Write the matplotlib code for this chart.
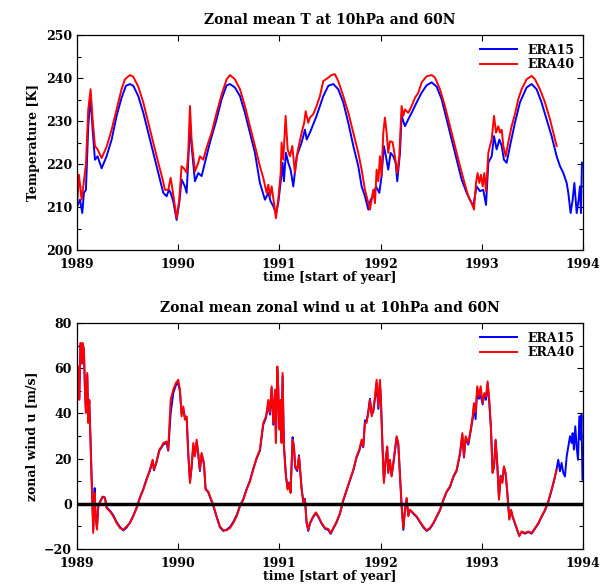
import numpy as np
import matplotlib.pyplot as plt
from matplotlib.ticker import MultipleLocator

plt.rcParams['font.family'] = 'DejaVu Serif'
plt.rcParams['font.weight'] = 'bold'
plt.rcParams['axes.labelweight'] = 'bold'
plt.rcParams['axes.titleweight'] = 'bold'

# Temperature at 10hPa, 60N (years since 1989, K)
t_T40 = [0.003, 0.020, 0.046, 0.063, 0.089, 0.112, 0.135, 0.155, 0.178, 0.204,
         0.244, 0.293, 0.343, 0.392, 0.441, 0.474, 0.524, 0.557, 0.606, 0.656,
         0.705, 0.754, 0.804, 0.847, 0.870, 0.902, 0.926, 0.952, 0.985, 1.011,
         1.034, 1.057, 1.084, 1.100, 1.117, 1.133, 1.166, 1.199, 1.215, 1.248,
         1.281, 1.331, 1.380, 1.430, 1.479, 1.512, 1.561, 1.611, 1.660, 1.709,
         1.759, 1.808, 1.841, 1.874, 1.891, 1.907, 1.924, 1.947, 1.966, 1.989,
         2.013, 2.022, 2.039, 2.062, 2.082, 2.105, 2.128, 2.154, 2.181, 2.220,
         2.246, 2.260, 2.286, 2.302, 2.335, 2.368, 2.401, 2.434, 2.484, 2.516,
         2.549, 2.582, 2.632, 2.681, 2.731, 2.780, 2.813, 2.846, 2.879, 2.895,
         2.912, 2.928, 2.945, 2.961, 2.978, 2.994, 3.010, 3.027, 3.043, 3.060,
         3.076, 3.093, 3.119, 3.142, 3.165, 3.185, 3.208, 3.225, 3.241, 3.274,
         3.307, 3.340, 3.373, 3.406, 3.455, 3.505, 3.538, 3.587, 3.636, 3.686,
         3.735, 3.785, 3.834, 3.867, 3.900, 3.923, 3.943, 3.959, 3.976, 3.992,
         4.009, 4.025, 4.042, 4.065, 4.081, 4.098, 4.121, 4.141, 4.164, 4.180,
         4.197, 4.213, 4.236, 4.262, 4.295, 4.328, 4.361, 4.394, 4.443, 4.493,
         4.526, 4.575, 4.625, 4.674, 4.707, 4.740]
T_era40 = [211.0, 217.5, 211.7, 214.8, 220.0, 232.7, 237.4, 230.4, 224.2, 223.4,
           221.4, 224.0, 228.0, 232.7, 237.4, 239.7, 240.7, 240.3, 238.0, 234.3,
           229.6, 225.0, 220.3, 216.4, 214.0, 214.0, 216.8, 212.9, 207.4, 211.7,
           219.5, 219.0, 218.0, 222.6, 233.5, 225.7, 218.3, 220.3, 221.8, 221.0,
           223.8, 227.3, 231.9, 236.2, 239.7, 240.7, 239.7, 237.4, 233.5, 228.8,
           224.2, 219.5, 216.8, 213.3, 215.2, 212.5, 214.8, 210.9, 207.4, 211.7,
           217.9, 225.0, 221.0, 231.2, 223.4, 221.8, 224.2, 217.9, 223.0, 227.3,
           229.6, 232.3, 229.6, 230.8, 231.6, 233.5, 235.8, 239.3, 240.1, 240.7,
           240.9, 239.3, 235.8, 232.0, 227.3, 222.6, 218.7, 214.0, 210.9, 209.4,
           211.7, 214.0, 210.9, 218.7, 216.0, 221.8, 217.2, 227.3, 230.8, 227.3,
           222.6, 225.3, 225.1, 221.8, 217.9, 221.8, 233.5, 231.2, 232.7, 231.9,
           233.5, 235.4, 236.6, 239.0, 240.4, 240.7, 240.1, 237.4, 233.5, 228.8,
           224.2, 219.5, 215.2, 212.5, 210.9, 209.4, 215.6, 217.9, 215.6, 217.5,
           214.8, 217.9, 213.7, 222.6, 224.2, 225.7, 231.2, 227.3, 228.8, 227.3,
           228.0, 224.2, 221.8, 225.0, 228.8, 231.6, 235.1, 237.4, 239.7, 240.5,
           239.7, 237.4, 234.3, 230.4, 227.3, 224.2]

t_T15 = [0.003, 0.030, 0.053, 0.069, 0.089, 0.112, 0.135, 0.155, 0.178, 0.204,
         0.244, 0.293, 0.343, 0.392, 0.441, 0.484, 0.524, 0.557, 0.606, 0.656,
         0.705, 0.754, 0.804, 0.853, 0.886, 0.909, 0.926, 0.952, 0.985, 1.011,
         1.034, 1.067, 1.084, 1.100, 1.117, 1.133, 1.166, 1.199, 1.232, 1.265,
         1.314, 1.380, 1.430, 1.479, 1.512, 1.561, 1.611, 1.660, 1.709, 1.759,
         1.808, 1.858, 1.891, 1.914, 1.940, 1.966, 1.989, 2.016, 2.032, 2.045,
         2.065, 2.088, 2.111, 2.138, 2.171, 2.220, 2.253, 2.270, 2.302, 2.368,
         2.434, 2.484, 2.533, 2.582, 2.632, 2.681, 2.731, 2.780, 2.813, 2.846,
         2.879, 2.902, 2.928, 2.955, 2.988, 3.010, 3.033, 3.053, 3.076, 3.099,
         3.126, 3.149, 3.165, 3.192, 3.208, 3.241, 3.274, 3.307, 3.356, 3.406,
         3.455, 3.505, 3.554, 3.603, 3.653, 3.702, 3.752, 3.801, 3.851, 3.883,
         3.916, 3.949, 3.982, 4.015, 4.042, 4.065, 4.098, 4.121, 4.147, 4.174,
         4.197, 4.219, 4.246, 4.279, 4.328, 4.377, 4.443, 4.493, 4.542, 4.591,
         4.641, 4.690, 4.740, 4.773, 4.806, 4.839, 4.855, 4.878, 4.898, 4.915,
         4.938, 4.957, 4.970, 4.980, 4.990]
T_era15 = [210.2, 211.7, 208.6, 213.3, 214.0, 228.8, 235.8, 228.0, 221.0, 221.8,
           219.0, 221.8, 225.7, 231.2, 235.4, 238.2, 238.6, 238.2, 235.8, 231.9,
           227.3, 222.6, 217.9, 213.3, 212.5, 214.0, 213.3, 211.3, 207.0, 210.9,
           216.4, 214.8, 213.3, 221.0, 228.8, 224.2, 216.0, 217.9, 217.2, 220.3,
           225.0, 230.4, 235.1, 238.3, 238.6, 237.8, 235.8, 231.9, 227.3, 222.6,
           215.6, 211.7, 213.3, 211.3, 210.2, 208.6, 210.9, 216.4, 220.3, 216.0,
           222.6, 220.3, 218.7, 214.8, 221.8, 225.0, 228.0, 225.7, 227.3, 231.2,
           235.8, 238.2, 238.6, 237.4, 234.3, 229.6, 224.2, 219.5, 214.8, 212.5,
           209.4, 211.7, 212.5, 214.8, 213.3, 217.2, 224.2, 221.8, 218.7, 222.6,
           221.8, 220.3, 216.0, 222.6, 231.2, 228.8, 230.4, 231.9, 234.3, 236.6,
           238.3, 239.0, 238.0, 235.1, 230.4, 225.7, 221.0, 216.4, 213.3, 211.7,
           210.2, 214.8, 213.7, 214.0, 210.5, 220.3, 221.8, 226.5, 223.4, 225.7,
           224.2, 221.0, 220.3, 224.2, 229.6, 234.3, 237.8, 238.6, 237.4, 234.3,
           230.4, 226.5, 221.8, 219.5, 217.9, 215.6, 213.3, 208.6, 211.7, 215.6,
           208.6, 211.7, 214.8, 208.6, 220.3]

# Zonal wind at 10hPa, 60N (years since 1989, m/s)
t_u = [0.003, 0.013, 0.023, 0.036, 0.049, 0.056, 0.069, 0.079, 0.089, 0.102,
       0.112, 0.122, 0.135, 0.148, 0.161, 0.175, 0.184, 0.198, 0.211, 0.227,
       0.254, 0.277, 0.293, 0.326, 0.359, 0.392, 0.425, 0.458, 0.491, 0.524,
       0.557, 0.590, 0.623, 0.656, 0.688, 0.721, 0.748, 0.761, 0.787, 0.814,
       0.837, 0.853, 0.886, 0.902, 0.926, 0.952, 0.978, 1.001, 1.018, 1.034,
       1.051, 1.067, 1.084, 1.100, 1.117, 1.133, 1.150, 1.166, 1.183, 1.199,
       1.215, 1.232, 1.255, 1.271, 1.298, 1.321, 1.347, 1.380, 1.413, 1.446,
       1.479, 1.512, 1.545, 1.578, 1.611, 1.644, 1.677, 1.709, 1.742, 1.775,
       1.808, 1.841, 1.868, 1.891, 1.907, 1.924, 1.940, 1.957, 1.966, 1.980,
       1.989, 1.999, 2.013, 2.022, 2.032, 2.045, 2.065, 2.082, 2.098, 2.111,
       2.131, 2.144, 2.157, 2.177, 2.194, 2.220, 2.237, 2.253, 2.269, 2.286,
       2.302, 2.335, 2.361, 2.385, 2.418, 2.451, 2.484, 2.507, 2.533, 2.566,
       2.599, 2.632, 2.665, 2.698, 2.731, 2.763, 2.790, 2.813, 2.829, 2.846,
       2.862, 2.879, 2.895, 2.912, 2.928, 2.945, 2.961, 2.978, 2.994, 3.004,
       3.020, 3.033, 3.053, 3.066, 3.076, 3.093, 3.109, 3.126, 3.142, 3.159,
       3.175, 3.192, 3.208, 3.225, 3.241, 3.258, 3.274, 3.291, 3.324, 3.356,
       3.389, 3.422, 3.455, 3.488, 3.521, 3.554, 3.587, 3.620, 3.653, 3.686,
       3.719, 3.752, 3.785, 3.808, 3.824, 3.841, 3.867, 3.890, 3.910, 3.923,
       3.939, 3.955, 3.972, 3.989, 4.009, 4.025, 4.042, 4.058, 4.074, 4.091,
       4.107, 4.121, 4.137, 4.154, 4.170, 4.186, 4.203, 4.219, 4.236, 4.252,
       4.272, 4.289, 4.305, 4.328, 4.351, 4.371, 4.394, 4.427, 4.460, 4.493,
       4.526, 4.559, 4.591, 4.625, 4.657, 4.690, 4.723, 4.740]
u_era40 = [57.9, 60.8, 46.0, 71.2, 62.3, 71.2, 68.2, 50.5, 40.2, 57.9,
           35.8, 46.0, 26.9, 6.3, -12.9, 4.8, -5.5, -11.4, -1.1, 0.4,
           3.0, 2.6, -1.9, -3.3, -5.5, -8.5, -10.7, -11.4, -10.0, -8.5,
           -5.5, -1.9, 2.6, 6.3, 10.7, 15.1, 19.5, 15.1, 18.8, 24.0,
           25.4, 26.9, 27.6, 24.0, 46.0, 50.5, 53.5, 54.9, 50.5, 38.7,
           43.1, 37.2, 38.7, 22.5, 9.2, 16.6, 26.9, 21.0, 28.4, 22.5,
           15.1, 22.5, 18.1, 6.3, 5.5, 2.6, -0.4, -5.5, -10.0, -11.7,
           -11.7, -10.7, -8.5, -5.5, -1.1, 1.8, 6.3, 9.9, 15.1, 20.3,
           24.0, 35.8, 38.7, 46.0, 40.2, 52.0, 35.8, 50.5, 26.9, 60.8,
           52.0, 32.8, 46.0, 26.9, 57.9, 25.4, 12.1, 6.3, 9.2, 4.8,
           28.4, 25.4, 16.6, 15.1, 21.0, 6.3, 0.4, 1.8, -8.5, -11.4,
           -8.5, -5.5, -3.8, -5.5, -8.5, -10.7, -11.1, -12.9, -10.7, -7.8,
           -4.1, 1.8, 6.3, 10.7, 15.1, 21.0, 24.0, 28.4, 25.4, 35.8,
           35.8, 40.2, 46.0, 38.7, 41.7, 47.6, 54.9, 43.1, 54.9, 46.0,
           24.0, 9.2, 21.0, 25.4, 13.6, 19.5, 12.1, 18.1, 24.0, 29.9,
           26.9, 12.1, -1.1, -10.7, -2.6, 2.6, -5.5, -2.6, -4.1, -5.5,
           -7.8, -10.0, -11.7, -10.7, -8.5, -5.5, -2.6, 1.8, 5.5, 7.7,
           12.1, 15.1, 22.5, 31.3, 21.0, 29.9, 26.9, 32.8, 38.7, 44.6,
           40.2, 52.0, 47.6, 52.0, 44.6, 49.0, 47.6, 54.2, 46.0, 32.8,
           13.6, 16.6, 28.4, 16.6, 1.8, 12.1, 9.2, 16.6, 13.6, 4.8,
           -7.0, -2.6, -5.5, -8.5, -11.4, -14.4, -12.2, -12.9, -12.2, -12.9,
           -10.7, -8.5, -5.5, -2.6, 1.1, 6.3, 12.1, 15.1]
u_era15 = [58.5, 60.5, 47.0, 70.5, 62.0, 70.8, 68.0, 51.0, 40.5, 57.0,
           36.5, 45.5, 27.5, 7.0, -11.5, 7.0, -4.5, -10.5, -0.5, 0.8,
           3.2, 2.8, -1.5, -3.0, -5.0, -8.0, -10.2, -11.8, -10.5, -8.2,
           -5.2, -1.6, 2.9, 6.6, 11.0, 14.6, 19.0, 14.8, 18.5, 23.5,
           25.0, 26.2, 27.0, 23.5, 40.0, 49.0, 52.5, 53.5, 49.5, 40.0,
           42.0, 38.0, 38.0, 22.0, 10.0, 16.0, 26.0, 21.5, 27.5, 21.5,
           14.5, 22.0, 17.5, 6.8, 5.0, 2.2, -0.8, -5.8, -10.4, -12.0,
           -11.4, -10.3, -8.0, -5.0, -0.8, 2.2, 6.6, 10.2, 15.5, 20.0,
           23.5, 35.0, 38.0, 44.0, 39.5, 51.0, 35.0, 49.5, 27.5, 59.5,
           51.0, 33.5, 45.0, 27.5, 56.5, 26.0, 12.5, 6.8, 9.5, 5.2,
           29.5, 25.0, 16.0, 14.5, 21.5, 7.0, 1.0, 2.2, -8.0, -12.0,
           -8.8, -5.8, -4.2, -5.8, -8.8, -11.0, -11.6, -13.3, -11.0, -8.2,
           -4.4, 1.5, 6.0, 10.4, 14.8, 20.5, 23.5, 27.5, 25.0, 37.0,
           36.5, 41.0, 46.5, 40.0, 40.5, 46.5, 53.5, 42.0, 53.5, 45.0,
           24.5, 10.0, 20.5, 25.0, 14.2, 19.0, 12.5, 17.5, 23.5, 29.5,
           26.5, 12.5, -0.5, -11.5, -3.0, 2.2, -5.0, -2.8, -4.4, -5.8,
           -8.1, -10.4, -12.0, -11.0, -8.8, -5.8, -2.9, 1.5, 5.2, 7.4,
           11.8, 14.6, 22.0, 30.5, 20.5, 29.0, 26.2, 32.0, 37.5, 43.5,
           37.5, 50.5, 46.5, 48.0, 44.0, 48.5, 46.0, 53.0, 45.0, 33.5,
           14.2, 16.0, 28.0, 17.0, 2.2, 12.5, 9.6, 16.2, 13.2, 5.2,
           -6.5, -2.9, -5.8, -8.8, -11.8, -14.0, -12.5, -13.2, -12.5, -13.2,
           -11.0, -8.8, -5.8, -2.9, 0.8, 6.0, 11.8, 15.5]
# ERA15 runs on past the end of ERA40
t_u15_tail = [4.756, 4.773, 4.789, 4.806, 4.822, 4.839, 4.855, 4.872, 4.888, 4.898,
              4.911, 4.924, 4.937, 4.951, 4.964, 4.977, 4.985, 4.995]
u15_tail = [19.5, 14.4, 18.1, 13.6, 12.1, 21.0, 25.4, 29.9, 26.9, 31.3,
            24.0, 34.3, 25.4, 19.5, 38.7, 28.4, 39.4, 10.7]

year0 = 1989
years = [1989, 1990, 1991, 1992, 1993, 1994]

fig = plt.figure(figsize=(6.01, 5.85), dpi=100)
ax1 = fig.add_axes([0.128, 0.5726, 0.842, 0.3675])
ax2 = fig.add_axes([0.128, 0.0615, 0.842, 0.3863])

ax1.plot(year0 + np.array(t_T15), T_era15, color='blue', lw=1.4, label='ERA15')
ax1.plot(year0 + np.array(t_T40), T_era40, color='red', lw=1.4, label='ERA40')
ax1.set_ylim(200, 250)
ax1.yaxis.set_major_locator(MultipleLocator(10))
ax1.yaxis.set_minor_locator(MultipleLocator(5))
ax1.set_ylabel('Temperature [K]', fontsize=9)
ax1.set_title('Zonal mean T at 10hPa and 60N', fontsize=10, pad=8)

t15 = np.concatenate([t_u, t_u15_tail])
u15 = np.concatenate([u_era15, u15_tail])
ax2.plot(year0 + t15, u15, color='blue', lw=1.4, label='ERA15')
ax2.plot(year0 + np.array(t_u), u_era40, color='red', lw=1.4, label='ERA40')
ax2.axhline(0, color='black', lw=2.5, zorder=4)
ax2.set_ylim(-20, 80)
ax2.yaxis.set_major_locator(MultipleLocator(20))
ax2.yaxis.set_minor_locator(MultipleLocator(10))
ax2.set_ylabel('zonal wind u [m/s]', fontsize=9)
ax2.set_title('Zonal mean zonal wind u at 10hPa and 60N', fontsize=10, pad=8)

for ax in (ax1, ax2):
    ax.set_xlim(1989, 1994)
    ax.set_xticks(years)
    ax.set_xticklabels([str(y) for y in years])
    ax.set_xlabel('time [start of year]', fontsize=9, labelpad=0)
    ax.tick_params(which='both', direction='in', top=True, right=True,
                   labelsize=9, width=0.8)
    ax.tick_params(axis='x', pad=6)
    ax.tick_params(which='major', length=4)
    ax.tick_params(which='minor', length=3)
    ax.tick_params(axis='x', which='minor', top=False, bottom=False)
    for s in ax.spines.values():
        s.set_linewidth(0.9)
    ax.legend(loc='upper right', frameon=False, fontsize=9, handlelength=3.0,
              borderaxespad=0.3, labelspacing=0.1)

fig.savefig('out.png', dpi=100)
